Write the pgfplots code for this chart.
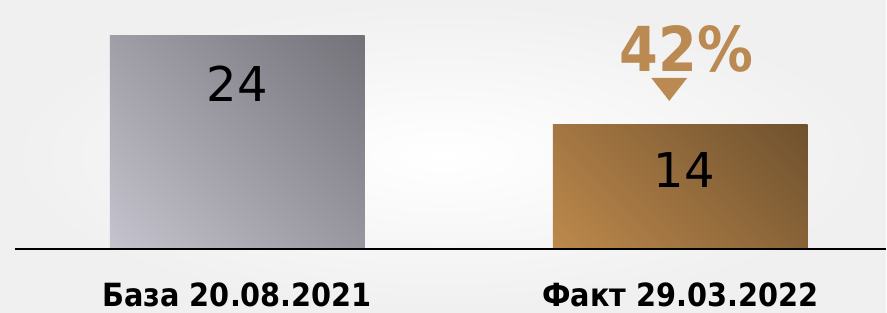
\documentclass[border=0pt]{standalone}
\usepackage{fontspec}
\setmainfont{DejaVu Sans}
\newfontfamily\condfont[FakeStretch=0.9]{DejaVu Sans}
\usepackage{pgfplots}
\pgfplotsset{compat=1.18}
\definecolor{goldtxt}{RGB}{186,138,82}
\definecolor{gA}{RGB}{200,198,208}
\definecolor{gB}{RGB}{112,111,118}
\definecolor{bA}{RGB}{192,139,77}
\definecolor{bB}{RGB}{108,79,45}
\pgfdeclareverticalshading{gshade}{100bp}{color(0bp)=(gA); color(12bp)=(gA); color(88bp)=(gB); color(100bp)=(gB)}
\pgfdeclareverticalshading{bshade}{100bp}{color(0bp)=(bA); color(12bp)=(bA); color(88bp)=(bB); color(100bp)=(bB)}
\begin{document}
\begin{tikzpicture}
\shade[inner color=white, outer color=black!6] (0,0) rectangle (887pt,313pt);
\begin{axis}[
  at={(0,0)}, anchor=south west,
  scale only axis, width=887pt, height=313pt,
  xmin=-0.5355, xmax=1.4645,
  ymin=-7.211, ymax=28.056,
  hide axis, clip=false,
  ybar, bar width=255pt,
]
\addplot[bar shift=0pt, draw=none, shading=gshade, shading angle=-45] coordinates {(0,24)};
\addplot[bar shift=0pt, draw=none, shading=bshade, shading angle=-45] coordinates {(1,14)};
\draw[line width=2pt] (axis cs:-0.5017,0) -- (axis cs:1.4645,0);
\node[anchor=base, font=\fontsize{48}{48}\selectfont] at (axis cs:0,16.56) {24};
\node[anchor=base, font=\fontsize{48}{48}\selectfont] at (axis cs:1.009,6.87) {14};
\node[anchor=base, text=goldtxt, font=\condfont\bfseries\fontsize{62}{62}\selectfont] at (axis cs:1.0135,19.94) {42\%};
\fill[goldtxt] (axis cs:0.9346,19.27) -- (axis cs:1.0158,19.27) -- (axis cs:0.9752,16.68) -- cycle;
\node[anchor=base, font=\condfont\bfseries\fontsize{32}{32}\selectfont] at (axis cs:0,-6.54) {База 20.08.2021};
\node[anchor=base, font=\condfont\bfseries\fontsize{32}{32}\selectfont] at (axis cs:1,-6.54) {Факт 29.03.2022};
\end{axis}
\end{tikzpicture}
\end{document}
